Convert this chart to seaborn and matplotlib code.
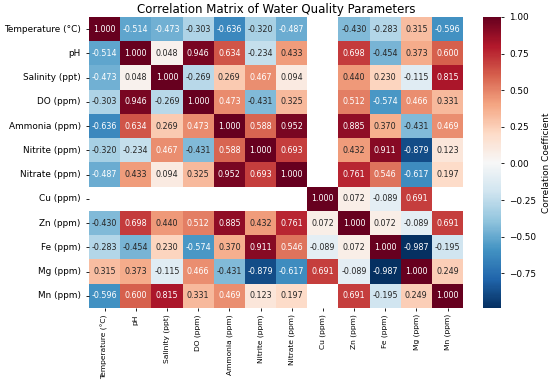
import numpy as np
import pandas as pd
import matplotlib
matplotlib.use("Agg")
import matplotlib.pyplot as plt
import seaborn as sns

params = ["Temperature (°C)", "pH", "Salinity (ppt)", "DO (ppm)", "Ammonia (ppm)",
          "Nitrite (ppm)", "Nitrate (ppm)", "Cu (ppm)", "Zn (ppm)", "Fe (ppm)",
          "Mg (ppm)", "Mn (ppm)"]

nan = np.nan
temperature = [1.000, -0.514, -0.473, -0.303, -0.636, -0.320, -0.487, nan, -0.430, -0.283, 0.315, -0.596]
ph = [-0.514, 1.000, 0.048, 0.946, 0.634, -0.234, 0.433, nan, 0.698, -0.454, 0.373, 0.600]
salinity = [-0.473, 0.048, 1.000, -0.269, 0.269, 0.467, 0.094, nan, 0.440, 0.230, -0.115, 0.815]
do = [-0.303, 0.946, -0.269, 1.000, 0.473, -0.431, 0.325, nan, 0.512, -0.574, 0.466, 0.331]
ammonia = [-0.636, 0.634, 0.269, 0.473, 1.000, 0.588, 0.952, nan, 0.885, 0.370, -0.431, 0.469]
nitrite = [-0.320, -0.234, 0.467, -0.431, 0.588, 1.000, 0.693, nan, 0.432, 0.911, -0.879, 0.123]
nitrate = [-0.487, 0.433, 0.094, 0.325, 0.952, 0.693, 1.000, nan, 0.761, 0.546, -0.617, 0.197]
cu = [nan, nan, nan, nan, nan, nan, nan, 1.000, 0.072, -0.089, 0.691, nan]
zn = [-0.430, 0.698, 0.440, 0.512, 0.885, 0.432, 0.761, 0.072, 1.000, 0.072, -0.089, 0.691]
fe = [-0.283, -0.454, 0.230, -0.574, 0.370, 0.911, 0.546, -0.089, 0.072, 1.000, -0.987, -0.195]
mg = [0.315, 0.373, -0.115, 0.466, -0.431, -0.879, -0.617, 0.691, -0.089, -0.987, 1.000, 0.249]
mn = [-0.596, 0.600, 0.815, 0.331, 0.469, 0.123, 0.197, nan, 0.691, -0.195, 0.249, 1.000]

corr = pd.DataFrame([temperature, ph, salinity, do, ammonia, nitrite, nitrate,
                     cu, zn, fe, mg, mn], index=params, columns=params)

fig = plt.figure(figsize=(5.5, 3.84), dpi=100)
ax = fig.add_axes([0.162, 0.198, 0.680, 0.758])
cax = fig.add_axes([0.878, 0.198, 0.033, 0.758])

sns.heatmap(corr, ax=ax, cbar_ax=cax, cmap="RdBu_r", annot=True, fmt=".3f",
            annot_kws={"fontsize": 5.8},
            cbar_kws={"label": "Correlation Coefficient"})

ax.set_title("Correlation Matrix of Water Quality Parameters", fontsize=8.5, pad=3)
ax.tick_params(axis="y", labelsize=6.4, length=2.5, width=0.6)
ax.tick_params(axis="x", labelsize=5.4, length=2.5, width=0.6, pad=2)
plt.setp(ax.get_xticklabels(), rotation=90)
plt.setp(ax.get_yticklabels(), rotation=0)
cax.tick_params(labelsize=6.4, length=2.5, width=0.6)
cax.yaxis.label.set_size(6.4)

fig.savefig("out.png", dpi=100)
